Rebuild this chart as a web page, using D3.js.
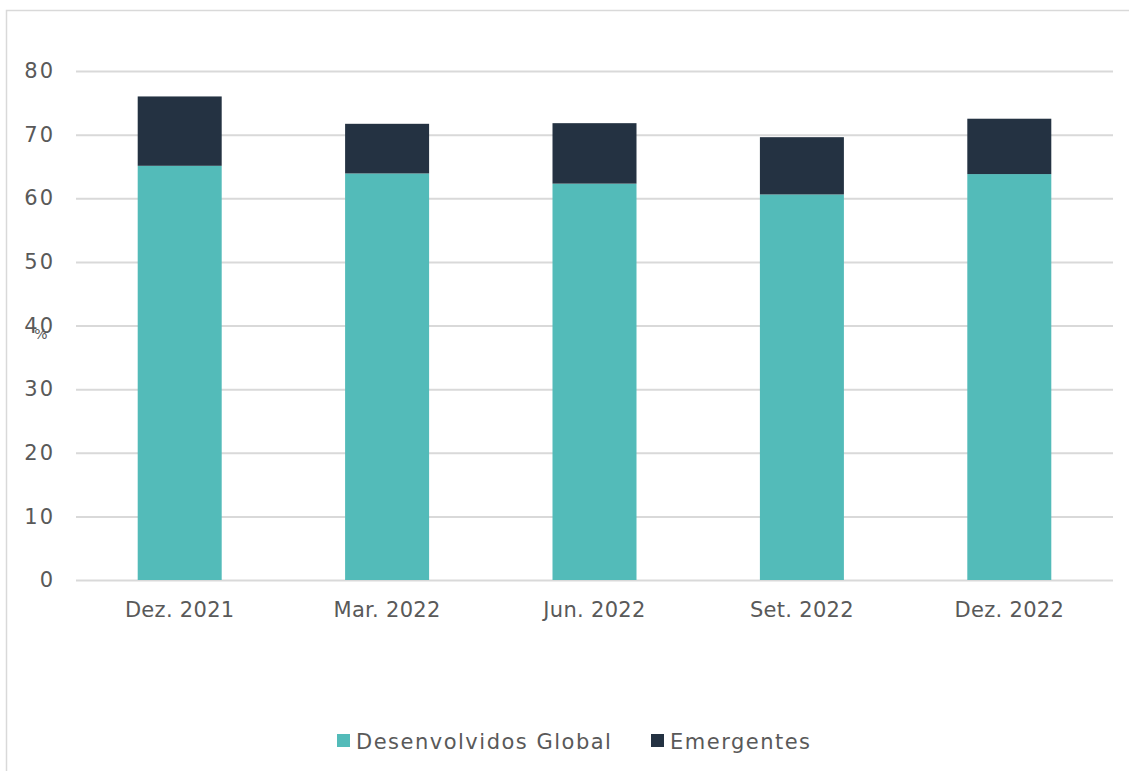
<!DOCTYPE html>
<html>
<head>
<meta charset="utf-8">
<script src="https://cdn.jsdelivr.net/npm/d3@7"></script>
<style>
  body { margin: 0; background: #fff; }
  text { font-family: "DejaVu Sans", sans-serif; fill: #595959; }
</style>
</head>
<body>
<svg class="chart"></svg>
<script>
// data (% of total)
const categories = ['Dez. 2021', 'Mar. 2022', 'Jun. 2022', 'Set. 2022', 'Dez. 2022']
const desenvolvidos = [65.1, 63.9, 62.3, 60.6, 63.8]
const emergentes = [10.9, 7.8, 9.5, 9.0, 8.7]
const seriesNames = ['Desenvolvidos Global', 'Emergentes']
const yTicks = [0, 10, 20, 30, 40, 50, 60, 70, 80]

const W = 1129, H = 771
const plot = { left: 76, right: 1113, top: 71, bottom: 580 }
const colors = ['#53bbb9', '#243242']

const svg = d3.select('.chart')
    .attr('width', W)
    .attr('height', H)

// outer frame
svg.append('path')
    .attr('d', `M6.5,${H} V10.5 H${W}`)
    .attr('fill', 'none')
    .attr('stroke', '#d9d9d9')
    .attr('stroke-width', 1.5)

const x = d3.scaleBand()
  .domain(categories)
  .range([plot.left, plot.right])
  .paddingInner(0.595)
  .paddingOuter(0.2975)
const y = d3.scaleLinear()
  .domain([0, 80])
  .range([plot.bottom, plot.top])

// grid
const grid = svg.append('g')
    .attr('transform', `translate(${plot.left},0)`)
    .call(d3.axisLeft(y).tickValues(yTicks).tickSize(-(plot.right - plot.left)).tickFormat(''))
grid.select('.domain').remove()
grid.selectAll('line').attr('stroke', '#d9d9d9').attr('stroke-width', 2)

// y labels
const yAx = svg.append('g')
    .attr('transform', `translate(55,0)`)
    .call(d3.axisLeft(y).tickValues(yTicks).tickSize(0).tickPadding(0))
yAx.select('.domain').remove()
yAx.selectAll('text').attr('font-size', 21).style('letter-spacing', '2px').style('fill', '#595959')
    .style('font-family', '"DejaVu Sans", sans-serif')

// stacked bars
const rows = categories.map((c, i) => ({ cat: c, a: desenvolvidos[i], b: emergentes[i] }))
const stack = d3.stack().keys(['a', 'b'])(rows)
svg.append('g').selectAll('g')
    .data(stack)
  .enter().append('g')
    .attr('fill', (d, i) => colors[i])
  .selectAll('rect')
    .data(d => d)
  .enter().append('rect')
    .attr('x', d => x(d.data.cat))
    .attr('width', x.bandwidth())
    .attr('y', d => y(d[1]))
    .attr('height', d => y(d[0]) - y(d[1]))

// x labels
const xAx = svg.append('g')
    .attr('transform', `translate(0,${plot.bottom})`)
    .call(d3.axisBottom(x).tickSize(0).tickPadding(22))
xAx.select('.domain').remove()
xAx.selectAll('text').attr('font-size', 21).style('letter-spacing', '0.3px').style('fill', '#595959')
    .style('font-family', '"DejaVu Sans", sans-serif')

// unit label
svg.append('text')
    .attr('x', 41)
    .attr('y', 339)
    .attr('text-anchor', 'middle')
    .attr('font-size', 14)
    .text('%')

// legend
const legendX = [337, 651]
const legend = svg.append('g').selectAll('g')
    .data(seriesNames)
  .enter().append('g')
    .attr('transform', (d, i) => `translate(${legendX[i]},734)`)
legend.append('rect')
    .attr('width', 13).attr('height', 13)
    .attr('fill', (d, i) => colors[i])
legend.append('text')
    .attr('x', 19)
    .attr('y', 15)
    .attr('font-size', 21)
    .style('letter-spacing', '1.5px')
    .text(d => d)
</script>
</body>
</html>
